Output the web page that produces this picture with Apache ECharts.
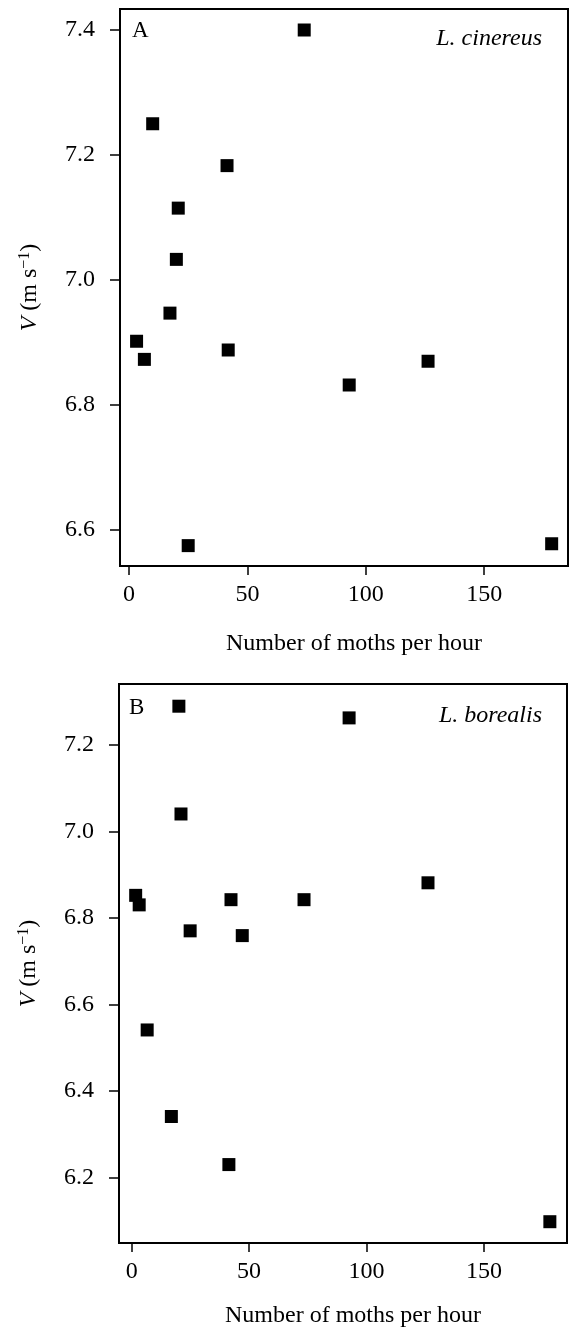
<!DOCTYPE html>
<html>
<head>
<meta charset="utf-8">
<script src="https://cdn.jsdelivr.net/npm/echarts@6/dist/echarts.min.js"></script>
<style>
  html, body { margin: 0; padding: 0; background: #fff; }
  #main { width: 570px; height: 1334px; }
</style>
</head>
<body>
<div id="main"></div>
<script>
// panel A: L. cinereus
var cinereusMoths = [3.2, 6.5, 10, 17.3, 20, 20.8, 25, 41.4, 41.9, 74, 93, 126.3, 178.5];
var cinereusV = [6.902, 6.873, 7.25, 6.947, 7.033, 7.115, 6.575, 7.183, 6.888, 7.40, 6.832, 6.870, 6.578];

// panel B: L. borealis
var borealisMoths = [1.7, 3.2, 6.6, 16.9, 20.1, 21.0, 24.9, 41.4, 42.3, 47.1, 73.4, 92.6, 126.2, 178.1];
var borealisV = [6.852, 6.830, 6.541, 6.341, 7.289, 7.040, 6.770, 6.230, 6.842, 6.759, 6.842, 7.262, 6.881, 6.098];

var xTicks = [0, 50, 100, 150];
var yTicksA = [6.6, 6.8, 7.0, 7.2, 7.4];
var yTicksB = [6.2, 6.4, 6.6, 6.8, 7.0, 7.2];

var xTitle = 'Number of moths per hour';
var FONT = 'Liberation Serif';

function pairs(xs, ys) {
    var out = [];
    for (var i = 0; i < xs.length; i++) out.push([xs[i], ys[i]]);
    return out;
}

function xAxisFor(gridIndex, min, max, gap) {
    return {
        type: 'value', gridIndex: gridIndex, min: min, max: max,
        splitLine: {show: false},
        axisLine: {show: true, onZero: false, lineStyle: {color: '#000', width: 2}},
        axisTick: {show: true, length: 9, customValues: xTicks, lineStyle: {color: '#000', width: 1.5}},
        axisLabel: {customValues: xTicks, margin: 17, fontFamily: FONT, fontSize: 24, color: '#000'},
        name: xTitle, nameLocation: 'middle', nameGap: gap,
        nameTextStyle: {fontFamily: FONT, fontSize: 24, color: '#000', padding: [0, 0, 0, 20]}
    };
}

function yAxisFor(gridIndex, min, max, ticks) {
    return {
        type: 'value', gridIndex: gridIndex, min: min, max: max,
        splitLine: {show: false},
        axisLine: {show: true, onZero: false, lineStyle: {color: '#000', width: 2}},
        axisTick: {show: true, length: 10, customValues: ticks, lineStyle: {color: '#000', width: 1.5}},
        axisLabel: {
            customValues: ticks, margin: 25, fontFamily: FONT, fontSize: 24, color: '#000',
            formatter: function (v) { return v.toFixed(1); }
        },
        name: '{i|V} (m s{sup|\u22121})', nameLocation: 'middle', nameGap: 78,
        nameTextStyle: {
            fontFamily: FONT, fontSize: 24, color: '#000',
            rich: {
                i: {fontFamily: FONT, fontSize: 24, fontStyle: 'italic', color: '#000'},
                sup: {fontFamily: FONT, fontSize: 16, color: '#000', verticalAlign: 'top', padding: [0, 0, 9, 0]}
            }
        }
    };
}

var chart = echarts.init(document.getElementById('main'));
chart.setOption({
    animation: false,
    backgroundColor: '#fff',
    grid: [
        {left: 120, right: 2, top: 9, bottom: 768, show: true, borderColor: '#000', borderWidth: 2},
        {left: 119, right: 3, top: 684, bottom: 91, show: true, borderColor: '#000', borderWidth: 2}
    ],
    xAxis: [xAxisFor(0, -3.8, 185.4, 66), xAxisFor(1, -5.4, 185.4, 61)],
    yAxis: [yAxisFor(0, 6.5424, 7.4336, yTicksA), yAxisFor(1, 6.0488, 7.3403, yTicksB)],
    series: [
        {type: 'scatter', xAxisIndex: 0, yAxisIndex: 0, symbol: 'rect', symbolSize: 13,
         itemStyle: {color: '#000', opacity: 1}, data: pairs(cinereusMoths, cinereusV)},
        {type: 'scatter', xAxisIndex: 1, yAxisIndex: 1, symbol: 'rect', symbolSize: 13,
         itemStyle: {color: '#000', opacity: 1}, data: pairs(borealisMoths, borealisV)}
    ],
    graphic: [
        {type: 'text', left: 132, top: 19, style: {text: 'A', font: '23px ' + FONT, fill: '#000'}},
        {type: 'text', right: 28, top: 27, style: {text: 'L. cinereus', font: 'italic 24px ' + FONT, fill: '#000'}},
        {type: 'text', left: 129, top: 696, style: {text: 'B', font: '23px ' + FONT, fill: '#000'}},
        {type: 'text', right: 28, top: 704, style: {text: 'L. borealis', font: 'italic 24px ' + FONT, fill: '#000'}}
    ]
});
</script>
</body>
</html>
